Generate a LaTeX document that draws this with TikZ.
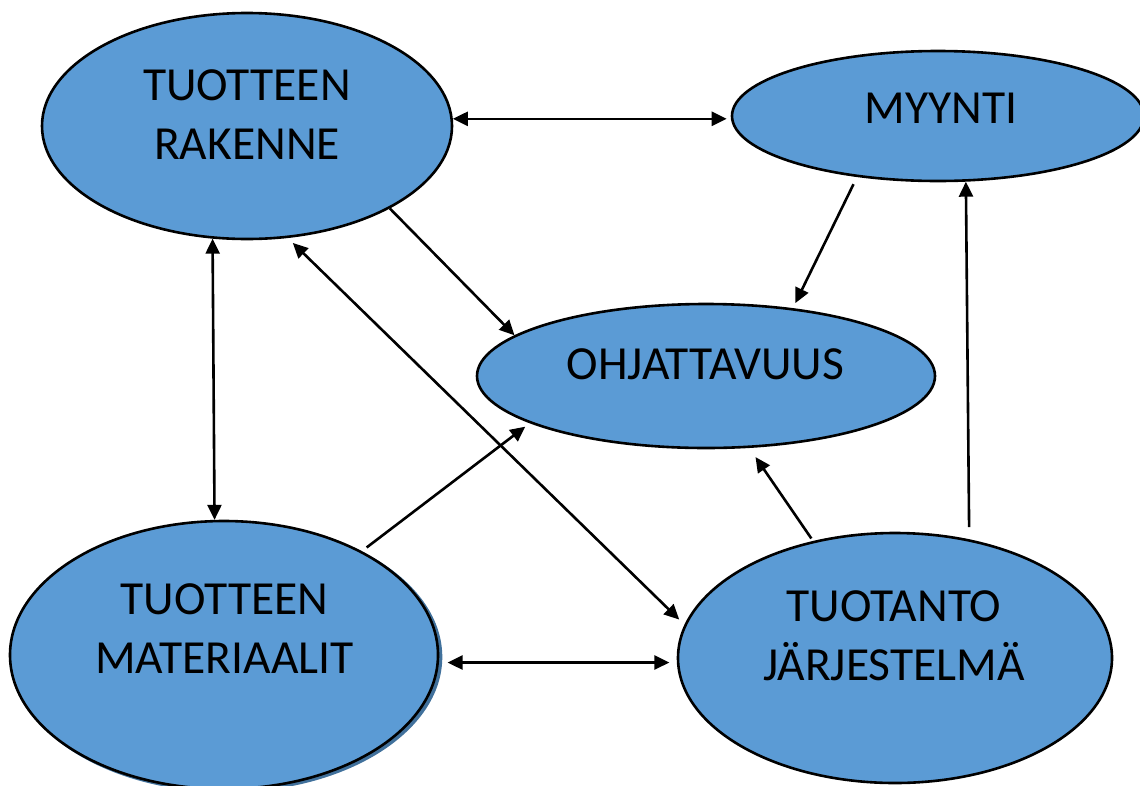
\documentclass[tikz,border=0pt]{standalone}
\usepackage{fontspec}
\setmainfont{Carlito}
\usetikzlibrary{arrows.meta,shapes.geometric}
\definecolor{fillblue}{HTML}{5B9BD5}
\definecolor{shadowblue}{HTML}{41719C}
\tikzset{
  ell/.style={ellipse, draw=black, line width=2.6pt, fill=fillblue, inner sep=0pt},
  shade/.style={ellipse, draw=shadowblue, line width=2.6pt, fill=shadowblue, inner sep=0pt},
  lbl/.style={font=\fontsize{47.5}{59}\selectfont, align=center, inner sep=0pt, text=black},
  conn/.style={line width=2.6pt, draw=black},
  tip/.style={-{Triangle[length=15pt,width=14pt]}},
  tips/.style={{Triangle[length=15pt,width=14pt]}-{Triangle[length=15pt,width=14pt]}}
}
\begin{document}
\begin{tikzpicture}[x=1pt,y=-1pt]
\useasboundingbox (0,0) rectangle (1140,785);
% ellipses
\node[ell, minimum width=410pt, minimum height=226pt] (tr) at (247,126) {};
\node[ell, minimum width=412pt, minimum height=130pt] (my) at (938,116) {};
\node[ell, minimum width=458pt, minimum height=144pt] (ohj) at (706,376) {};
\node[shade, minimum width=428pt, minimum height=268pt] (matsh) at (227,657) {};
\node[ell, minimum width=428pt, minimum height=268pt] (mat) at (224,655) {};
\node[ell, minimum width=434pt, minimum height=250pt] (tuot) at (895,658) {};
% texts
\node[lbl] (trt) at (247,114.5) {TUOTTEEN\\RAKENNE};
\node[lbl] (myt) at (941,108) {MYYNTI};
\node[lbl] (ohjt) at (705.5,364.5) {OHJATTAVUUS};
\node[lbl] (matt) at (224.5,629) {TUOTTEEN\\MATERIAALIT};
\node[lbl] (tuott) at (894,636) {TUOTANTO\\JÄRJESTELMÄ};
% connectors
\draw[conn,tips,shorten >=4pt] (tr.2.5) -- (tr.2.5 -| my.west);
\draw[conn,tip] (tr.-30.9) -- (ohj.168.4);
\draw[conn,tip,shorten <=8pt,shorten >=5.6pt] (my.-143.3) -- (ohj.38.4);
\draw[conn,tips] (tr.-107) -- (mat.94.7);
\draw[conn,tips,shorten <=7pt,shorten >=7.3pt] (tr.-70.7) -- (tuot.171.4);
\draw[conn,tip,shorten <=6pt,shorten >=5.7pt] (mat.37.2) -- (ohj.-165.6);
\draw[conn,tip,shorten <=3pt,shorten >=11pt] (tuot.125.8) -- (ohj.-59.4);
\draw[conn,tip,shorten <=12pt] (tuot.58.2) -- (my.-67.3);
\draw[conn,tips,shorten <=8.6pt,shorten >=7.3pt] (mat.-2.7) -- (mat.-2.7 -| tuot.west);
\end{tikzpicture}
\end{document}
